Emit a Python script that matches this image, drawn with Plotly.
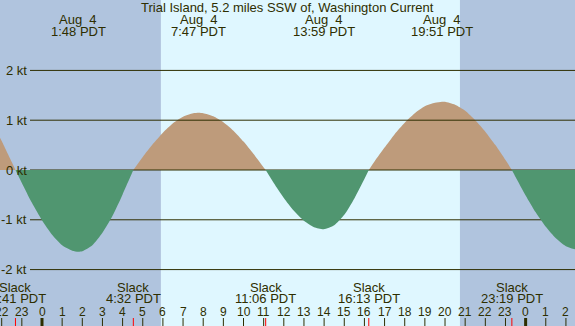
import plotly.graph_objects as go

W, H = 575, 326
title = "Trial Island, 5.2 miles SSW of, Washington Current"

# current speed (kt) vs hours after midnight Aug 4 (PDT)
times = [-2.1, -2.0, -1.5, -1.317,
         -1.0, -0.5, 0.0, 0.5, 1.0, 1.5, 1.8, 2.0, 2.5, 3.0, 3.5, 4.0, 4.5, 4.533,
         5.0, 5.5, 6.0, 6.5, 7.0, 7.5, 7.783, 8.0, 8.5, 9.0, 9.5, 10.0, 10.5, 11.0, 11.1,
         11.5, 12.0, 12.5, 13.0, 13.5, 13.983, 14.5, 15.0, 15.5, 16.0, 16.217,
         16.5, 17.0, 17.5, 18.0, 18.5, 19.0, 19.5, 19.85, 20.0, 20.5, 21.0, 21.5, 22.0, 22.5, 23.0, 23.317,
         23.5, 24.0, 24.5, 25.0, 25.5, 26.0, 26.5]
speed = [0.66, 0.58, 0.16, 0.0,
         -0.26, -0.66, -1.01, -1.30, -1.51, -1.62, -1.64, -1.63, -1.51, -1.26, -0.92, -0.49, -0.03, 0.0,
         0.26, 0.52, 0.75, 0.94, 1.07, 1.14, 1.15, 1.14, 1.08, 0.96, 0.79, 0.57, 0.32, 0.05, 0.0,
         -0.26, -0.56, -0.82, -1.02, -1.15, -1.19, -1.11, -0.90, -0.57, -0.18, 0.0,
         0.17, 0.45, 0.72, 0.95, 1.14, 1.28, 1.35, 1.37, 1.37, 1.31, 1.19, 1.00, 0.77, 0.50, 0.20, 0.0,
         -0.14, -0.51, -0.85, -1.14, -1.37, -1.53, -1.60]

slack_hours = [-1.317, 4.533, 11.1, 16.217, 23.317]
slack_labels = ["22:41 PDT", "4:32 PDT", "11:06 PDT", "16:13 PDT", "23:19 PDT"]
max_hours = [1.8, 7.783, 13.983, 19.85, 26.65]
max_dates = ["Aug  4", "Aug  4", "Aug  4", "Aug  4", "Aug  5"]
max_labels = ["1:48 PDT", "7:47 PDT", "13:59 PDT", "19:51 PDT", "2:39 PDT"]
sunrise, sunset = 5.9, 20.74
kt_levels = [2, 1, 0, -1, -2]
kt_labels = ["2 kt", "1 kt", "0 kt", "-1 kt", "-2 kt"]
hour_ticks = list(range(-2, 27))
hour_labels = [str(h % 24) for h in hour_ticks]

XMIN, XMAX = -2.084, 26.45
YMIN, YMAX = -3.133, 3.414

NIGHT = "#B0C4DE"
DAY = "#DFF7FF"
FLOOD = "#BE9B7B"
EBB = "#509670"
INK = "#2E2E00"
FONT = "Liberation Sans, Arial, sans-serif"


def px_x(p):
    return XMIN + p * (XMAX - XMIN) / W


def py(p):
    return 1 - p / H


# split the series into lobes between slack (zero) points
lobes = []
cur_x, cur_y = [], []
for t, v in zip(times, speed):
    cur_x.append(t)
    cur_y.append(v)
    if v == 0 and len(cur_x) > 1:
        lobes.append((cur_x, cur_y))
        cur_x, cur_y = [t], [v]
if len(cur_x) > 1:
    lobes.append((cur_x, cur_y))

fig = go.Figure()


def add_lobes(positive, color):
    for xs, ys in lobes:
        if (sum(ys) > 0) == positive:
            fig.add_trace(go.Scatter(x=xs, y=ys, mode="lines", fill="tozeroy",
                                     fillcolor=color,
                                     line=dict(width=0, color=color, shape="spline", smoothing=0.6),
                                     hoverinfo="skip"))


add_lobes(True, FLOOD)

lx, ly = [], []
for k in kt_levels:
    lx += [px_x(30), XMAX, None]
    ly += [k, k, None]
fig.add_trace(go.Scatter(x=lx, y=ly, mode="lines", line=dict(width=1, color=INK),
                         hoverinfo="skip"))

add_lobes(False, EBB)

shapes = [dict(type="rect", xref="x", yref="paper", x0=sunrise, x1=sunset, y0=0, y1=1,
               fillcolor=DAY, line=dict(width=0), layer="below")]
for h in hour_ticks:
    shapes.append(dict(type="line", xref="x", yref="paper", x0=h, x1=h,
                       y0=py(318), y1=py(326),
                       line=dict(color=INK, width=3 if h % 24 == 0 else 1)))
for s in slack_hours:
    shapes.append(dict(type="line", xref="x", yref="paper", x0=s, x1=s,
                       y0=py(318), y1=py(326), line=dict(color="red", width=1)))

ann = []
f = dict(family=FONT, size=13, color=INK)
fh = dict(family=FONT, size=12, color=INK)
ann.append(dict(text=title, x=0.5, xref="paper", y=py(7.5), yref="paper",
                showarrow=False, font=f, xanchor="center", yanchor="middle"))
for h, d, t in zip(max_hours, max_dates, max_labels):
    ann.append(dict(text=d.replace("  ", "\u00a0 "), x=h, xref="x", y=py(19.5), yref="paper",
                    showarrow=False, font=f, xanchor="center", yanchor="middle"))
    ann.append(dict(text=t, x=h, xref="x", y=py(31.5), yref="paper",
                    showarrow=False, font=f, xanchor="center", yanchor="middle"))
for h, t in zip(slack_hours, slack_labels):
    ann.append(dict(text="Slack", x=h, xref="x", y=py(287.5), yref="paper",
                    showarrow=False, font=f, xanchor="center", yanchor="middle"))
    ann.append(dict(text=t, x=h, xref="x", y=py(298.5), yref="paper",
                    showarrow=False, font=f, xanchor="center", yanchor="middle"))
for h, t in zip(hour_ticks, hour_labels):
    ann.append(dict(text=t, x=h, xref="x", y=py(311.5), yref="paper",
                    showarrow=False, font=fh, xanchor="center", yanchor="middle"))
for k, t in zip(kt_levels, kt_labels):
    ann.append(dict(text=t, x=px_x(29), xref="x", y=k, yref="y",
                    showarrow=False, font=f, xanchor="right", yanchor="middle"))

fig.update_layout(
    width=W, height=H, margin=dict(l=0, r=0, t=0, b=0),
    paper_bgcolor=NIGHT, plot_bgcolor=NIGHT, showlegend=False,
    xaxis=dict(range=[XMIN, XMAX], visible=False, fixedrange=True),
    yaxis=dict(range=[YMIN, YMAX], visible=False, fixedrange=True),
    shapes=shapes, annotations=ann,
)
fig.write_html("out.html", config={"displayModeBar": False})
